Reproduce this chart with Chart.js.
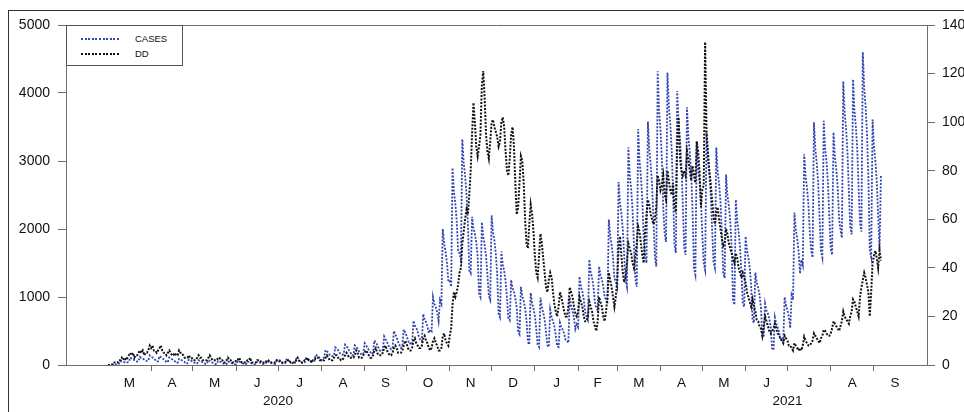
<!DOCTYPE html>
<html><head><meta charset="utf-8">
<script src="https://cdn.jsdelivr.net/npm/chart.js@4.4.0/dist/chart.umd.min.js"></script>
<style>
html,body{margin:0;padding:0;background:#fff;}
#wrap{position:relative;width:964px;height:412px;overflow:hidden;background:#fff;}
#frame{position:absolute;left:8px;top:10px;width:2000px;height:1000px;border-top:1px solid #333;border-left:1px solid #333;}
#c{position:absolute;left:0;top:0;}
#legend{position:absolute;left:66px;top:25px;width:115px;height:39px;border:1px solid #555;background:#fff;font:9.5px "Liberation Sans",Arial,sans-serif;color:#111;}
#legend .sw{position:absolute;left:14px;width:39px;height:2px;}
#legend .tx{position:absolute;left:68px;height:12px;line-height:12px;white-space:nowrap;}
</style></head>
<body><div id="wrap"><div id="frame"></div><canvas id="c" width="964" height="412"></canvas><div id="legend"></div></div>
<script>
// Day numbers counted from 1 March 2020 (day 0)
const monthStarts = [0,31,61,92,122,153,184,214,245,275,306,337,365,396,426,457,487,518,549,579];
const monthLabels = ['M','A','M','J','J','A','S','O','N','D','J','F','M','A','M','J','J','A','S'];
const yearTicks = [122,487];
const yearLabels = ['2020','2021'];
const leftTicks = [0,1000,2000,3000,4000,5000];
const rightTicks = [0,20,40,60,80,100,120,140];
const firstDay = 0;

const cases = [
0,0,2,5,8,10,12, 15,20,60,50,45,40,30, 40,45,110,95,85,70,55, 50,55,120,105,95,80,65,
60,65,140,120,110,90,75, 50,55,130,115,100,85,70, 40,45,110,95,85,70,55, 30,35,90,80,70,55,45,
20,25,80,70,60,45,35, 20,22,70,60,50,40,30, 15,18,70,60,50,35,25, 15,15,60,50,45,30,20,
10,12,50,45,35,25,18, 10,12,60,50,40,30,20, 10,12,50,45,35,25,18, 10,12,50,45,35,25,18,
15,18,60,50,45,30,22, 15,20,70,60,50,35,25, 20,25,80,70,60,40,30, 20,28,90,80,65,45,35,
30,35,100,90,75,55,45, 50,60,150,135,120,90,70, 100,110,220,200,180,150,130, 130,140,260,240,220,180,160,
150,160,300,280,250,210,180, 140,150,290,270,240,200,170, 150,160,320,290,260,220,190, 160,180,360,330,300,250,210,
200,220,420,380,340,290,250, 230,250,500,450,400,340,290, 250,270,520,480,430,370,310, 318,300,650,580,545,493,405,
370,350,750,670,630,570,470, 525,500,1000,900,850,775,650, 955,900,2000,1780,1670,1505,1230, 1238,1150,2900,2550,2375,2113,1675,
1640,1550,3320,2966,2790,2524,2080, 1390,1350,2180,2015,1930,1806,1600, 1055,1000,2100,1880,1770,1605,1330, 1020,960,2200,1950,1830,1640,1330,
750,700,1670,1475,1380,1235,990, 690,660,1250,1130,1075,985,840, 485,450,1150,1010,940,835,660, 340,300,1060,910,830,720,530,
300,265,990,845,770,665,480, 290,265,810,700,645,565,430, 280,265,620,550,515,460,370, 360,325,1000,865,800,695,530,
600,560,1300,1150,1080,970,780, 705,660,1550,1370,1280,1150,930, 840,810,1450,1320,1260,1160,1000, 960,900,2140,1890,1770,1580,1270,
1230,1150,2690,2380,2230,2000,1610, 1250,1150,3200,2790,2585,2280,1765, 1265,1150,3470,3005,2775,2425,1845, 1605,1500,3580,3165,2955,2645,2125,
1595,1450,4320,3745,3460,3030,2310, 1935,1810,4300,3800,3555,3180,2555, 1770,1650,4030,3555,3315,2960,2365, 1730,1620,3790,3355,3140,2815,2270,
1430,1330,3290,2900,2700,2410,1920, 1500,1400,3420,3015,2815,2510,2005, 1520,1430,3200,2845,2670,2405,1960, 1355,1280,2800,2495,2345,2115,1735,
960,885,2430,2120,1965,1735,1350, 905,855,1890,1685,1580,1425,1165, 655,620,1360,1210,1140,1030,840, 435,410,900,800,755,680,555,
245,220,700,605,555,485,365, 385,350,1000,870,805,710,545, 1025,960,2240,1985,1855,1665,1345, 1550,1470,3100,2775,2610,2365,1960,
1680,1580,3570,3170,2975,2675,2175, 1680,1580,3590,3190,2985,2685,2185, 1710,1620,3420,3060,2880,2610,2160, 1985,1870,4170,3710,3480,3135,2560,
2035,1920,4200,3745,3515,3175,2605, 2090,1960,4600,4070,3810,3410,2750, 1690,1590,3610,3205,3005,2700,2195, 1700,2800
];

const dd = [
0,0,0,0,1,1,1, 1,2,2,3,2,3,2, 3,4,5,4,5,3,4, 4,5,6,5,6,4,5,
5,6,8,7,8,6,6, 5,6,7,8,6,5,5, 4,5,6,5,4,4,5, 4,4,6,5,5,4,3,
3,3,4,3,3,2,2, 2,3,4,3,3,2,2, 2,2,3,4,3,2,2, 2,2,3,3,2,2,1,
1,2,3,2,2,1,1, 1,2,2,3,2,1,1, 1,1,2,2,3,1,1, 1,1,2,2,2,1,1,
1,1,2,2,1,1,1, 1,1,2,2,2,1,1, 1,1,2,2,2,1,1, 1,1,2,3,2,1,1,
1,2,2,3,2,2,1, 2,2,3,3,3,2,2, 2,2,3,4,3,2,2, 2,3,4,4,3,3,2,
2,3,4,5,4,3,3, 3,3,4,6,5,3,3, 3,4,5,6,5,4,3, 3,4,6,7,5,4,4,
4,5,7,8,6,5,4, 4,5,7,8,7,5,5, 5,6,8,10,9,7,6, 6,7,10,11,9,8,7,
7,8,11,12,10,9,7, 6,7,10,11,9,8,6, 6,7,12,13,10,9,8, 12,15,25,30,28,30,33,
38,40,50,55,60,64,62, 70,80,95,108,100,90,86, 90,95,115,121,110,95,88, 85,92,100,101,98,96,94,
90,92,100,102,98,88,80, 78,85,95,98,90,75,62, 65,75,86,84,75,60,50, 48,58,66,62,55,45,38,
36,45,54,50,44,38,32, 30,35,38,36,30,25,22, 20,24,30,28,25,22,20, 20,24,32,30,28,24,21,
20,22,28,26,24,20,18, 18,20,26,24,22,18,16, 14,18,28,26,24,20,18, 22,28,38,35,32,28,24,
28,35,48,53,45,38,34, 36,42,50,48,46,42,40, 45,50,57,55,50,45,42, 55,62,68,66,62,60,58,
60,65,78,76,72,74,78, 70,68,80,76,72,70,75, 65,63,90,102,85,80,78, 80,78,88,85,80,76,82,
78,75,92,88,80,65,72, 74,133,96,88,80,75,68, 61,58,63,65,60,56,52, 49,50,56,54,50,48,46,
44,42,46,44,40,38,36, 38,36,34,30,28,26,24, 27,24,22,18.6,18,16,15, 12,16,20,18,16,14,13,
14,15,17,15,13,12,11, 10,9,12,11,10,8,8, 7,6,9,8,7,6,7, 6,8,11.6,10,9,8,8,
9,10,13,12,11,10,9, 11,12,14.5,14,13,12,12, 13,15,18,17,16,15,14, 16,18,22,20,19,18,17,
20,22,27,26,24,22,20, 28,32,35,38,36,33,30, 20,30,42,45,47,44,40, 47,43
];

const BLUE = '#3346b0';
const BLACK = '#111111';
const AX = '#6e6e6e';
const FONT_Y = {family: '"Liberation Sans", Arial, sans-serif', size: 14};
const FONT_X = {family: '"Liberation Sans", Arial, sans-serif', size: 13.5};
const X_MIN = -30, X_MAX = 587;

const monthMids = monthLabels.map((_, i) => (monthStarts[i] + monthStarts[i + 1]) / 2);
const toPts = arr => arr.map((v, i) => ({x: firstDay + i, y: v}));

const topLine = {
  id: 'topLine',
  afterDraw(c) {
    const {ctx, chartArea: a} = c;
    ctx.save();
    ctx.strokeStyle = AX; ctx.lineWidth = 1;
    ctx.beginPath(); ctx.moveTo(a.left, Math.floor(a.top) + 0.5); ctx.lineTo(a.right, Math.floor(a.top) + 0.5); ctx.stroke();
    ctx.restore();
  }
};

const chart = new Chart(document.getElementById('c'), {
  type: 'line',
  data: {
    datasets: [
      {label: 'CASES', data: toPts(cases), xAxisID: 'x', yAxisID: 'y', borderColor: BLUE, backgroundColor: BLUE,
       borderWidth: 1.8, borderDash: [2, 1.5], pointRadius: 0, tension: 0, fill: false, order: 1},
      {label: 'DD', data: toPts(dd), xAxisID: 'x', yAxisID: 'y1', borderColor: BLACK, backgroundColor: BLACK,
       borderWidth: 2, borderDash: [2, 1.5], pointRadius: 0, tension: 0, fill: false, order: 0}
    ]
  },
  options: {
    responsive: false, animation: false, devicePixelRatio: 1,
    layout: {padding: {top: 25, left: 0, right: 0, bottom: 0}},
    plugins: {legend: {display: false}, tooltip: {enabled: false}},
    scales: {
      x: {type: 'linear', position: 'bottom', min: X_MIN, max: X_MAX, weight: 0, display: true,
          grid: {display: true, drawOnChartArea: false, drawTicks: true, tickLength: 6, color: AX},
          border: {display: true, color: AX},
          ticks: {display: false},
          afterBuildTicks: s => { s.ticks = monthStarts.slice(1, 19).map(v => ({value: v})); },
          afterFit: s => { s.height = 8; }},
      xm: {type: 'linear', position: 'bottom', min: X_MIN, max: X_MAX, weight: 1, display: true,
          grid: {display: false, drawTicks: false}, border: {display: false},
          ticks: {autoSkip: false, maxRotation: 0, minRotation: 0, padding: 2, font: FONT_X, color: '#111',
                  callback: (v, i) => monthLabels[i]},
          afterBuildTicks: s => { s.ticks = monthMids.map(v => ({value: v})); },
          afterFit: s => { s.height = 20; }},
      xy: {type: 'linear', position: 'bottom', min: X_MIN, max: X_MAX, weight: 2, display: true,
          grid: {display: false, drawTicks: false}, border: {display: false},
          ticks: {autoSkip: false, maxRotation: 0, minRotation: 0, padding: 0, font: FONT_X, color: '#111',
                  callback: (v, i) => yearLabels[i]},
          afterBuildTicks: s => { s.ticks = yearTicks.map(v => ({value: v})); },
          afterFit: s => { s.height = 19; }},
      y: {type: 'linear', position: 'left', min: 0, max: 5000,
          grid: {drawOnChartArea: false, drawTicks: true, tickLength: 8, color: AX},
          border: {display: true, color: AX},
          ticks: {padding: 8, font: FONT_Y, color: '#111', callback: v => String(v)},
          afterBuildTicks: s => { s.ticks = leftTicks.map(v => ({value: v})); },
          afterFit: s => { s.width = 66; }},
      y1: {type: 'linear', position: 'right', min: 0, max: 140,
          grid: {drawOnChartArea: false, drawTicks: true, tickLength: 8, color: AX},
          border: {display: true, color: AX},
          ticks: {padding: 7, font: FONT_Y, color: '#111', callback: v => String(v)},
          afterBuildTicks: s => { s.ticks = rightTicks.map(v => ({value: v})); },
          afterFit: s => { s.width = 37; }}
    }
  },
  plugins: [topLine]
});

// HTML legend built from the chart's datasets
const lg = document.getElementById('legend');
chart.data.datasets.forEach((ds, i) => {
  const sw = document.createElement('div');
  sw.className = 'sw';
  sw.style.top = (12 + i * 15) + 'px';
  sw.style.background = 'repeating-linear-gradient(90deg,' + ds.borderColor + ' 0 2px, transparent 2px 3.6px)';
  const tx = document.createElement('div');
  tx.className = 'tx';
  tx.style.top = (7 + i * 15) + 'px';
  tx.textContent = ds.label;
  lg.appendChild(sw); lg.appendChild(tx);
});
</script></body></html>
